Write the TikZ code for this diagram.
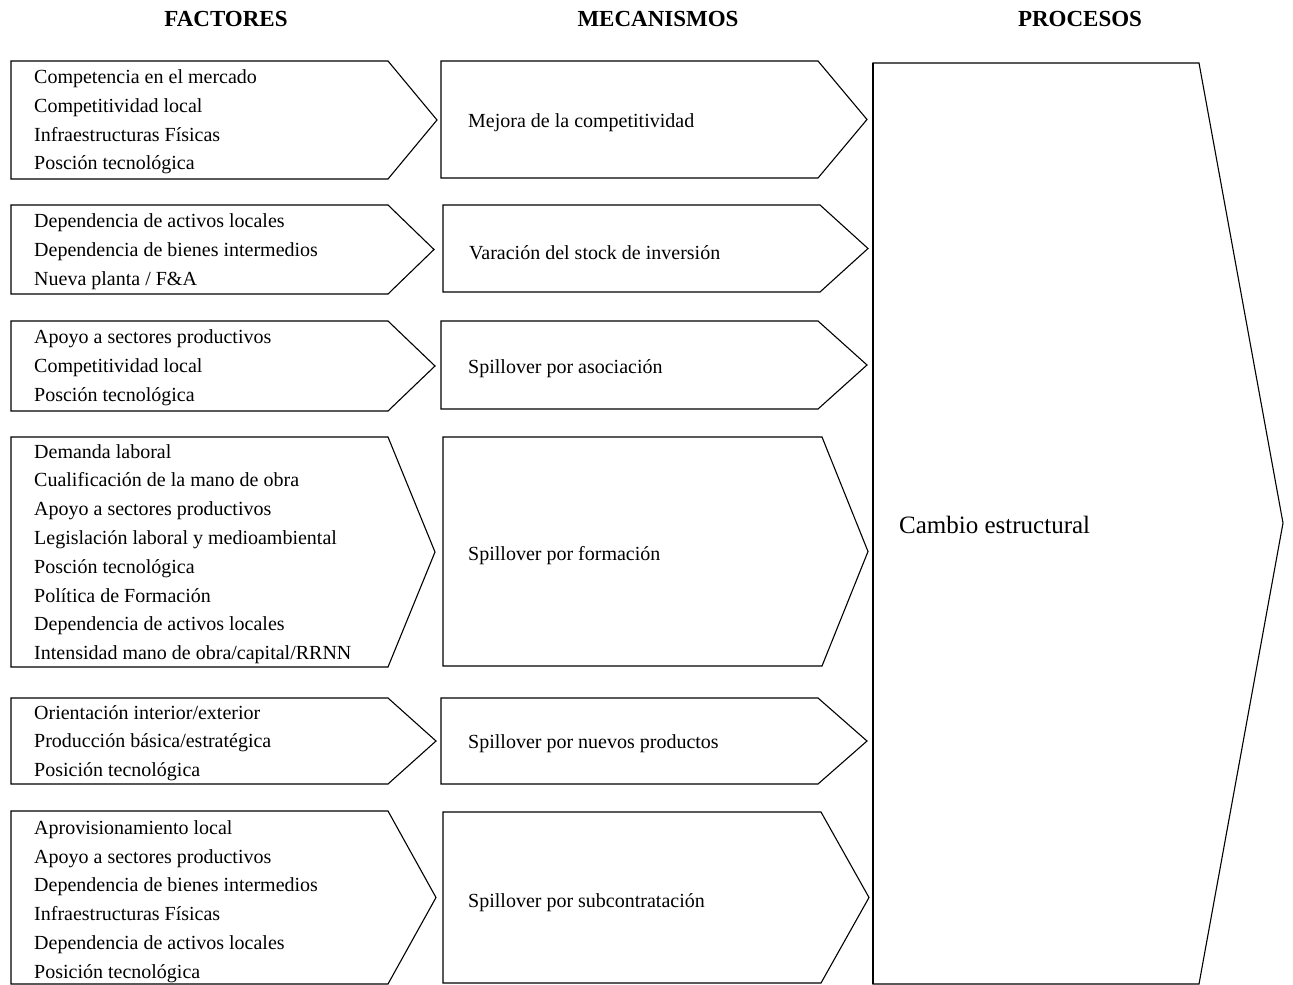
\documentclass[tikz,border=0pt]{standalone}
\usepackage{fontspec}
\setmainfont{Liberation Serif}
\begin{document}
\begin{tikzpicture}[x=1pt,y=-1pt,
  shapeline/.style={draw=black,line width=1.1pt,line join=miter},
  head/.style={font=\fontsize{23}{26}\selectfont\bfseries},
  factxt/.style={anchor=west,align=left,inner sep=0pt,font=\fontsize{20}{28.8}\selectfont},
  mectxt/.style={anchor=west,inner sep=0pt,font=\fontsize{20}{24}\selectfont},
  proctxt/.style={anchor=west,inner sep=0pt,font=\fontsize{25}{30}\selectfont}]
\useasboundingbox (0,0) rectangle (1293,985);
\fill[white] (0,0) rectangle (1293,985);

% column headings
\node[head] (hfac) at (226,19) {FACTORES};
\node[head] (hmec) at (658,19) {MECANISMOS};
\node[head] (hpro) at (1080,19) {PROCESOS};

% pentagon arrow: left, body right, tip, top, bottom
\newcommand\chevbox[5]{%
  \draw[shapeline] (#1,#4) -- (#2,#4) -- (#3,{(#4+#5)/2}) -- (#2,#5) -- (#1,#5) -- cycle;}

% factors column
\chevbox{11}{388}{437}{61}{179}
\chevbox{11}{388}{434}{205}{294}
\chevbox{11}{388}{435}{321}{411}
\chevbox{11}{388}{435}{437}{667}
\chevbox{11}{388}{436}{698}{784}
\chevbox{11}{388}{436}{811}{984}

\node[factxt] (f1) at (34,122) {Competencia en el mercado\\Competitividad local\\Infraestructuras Físicas\\Posción tecnológica};
\node[factxt] (f2) at (34,251.5) {Dependencia de activos locales\\Dependencia de bienes intermedios\\Nueva planta / F\&A};
\node[factxt] (f3) at (34,368) {Apoyo a sectores productivos\\Competitividad local\\Posción tecnológica};
\node[factxt] (f4) at (34,554) {Demanda laboral\\Cualificación de la mano de obra\\Apoyo a sectores productivos\\Legislación laboral y medioambiental\\Posción tecnológica\\Política de Formación\\Dependencia de activos locales\\Intensidad mano de obra/capital/RRNN};
\node[factxt] (f5) at (34,743) {Orientación interior/exterior\\Producción básica/estratégica\\Posición tecnológica};
\node[factxt] (f6) at (34,901.5) {Aprovisionamiento local\\Apoyo a sectores productivos\\Dependencia de bienes intermedios\\Infraestructuras Físicas\\Dependencia de activos locales\\Posición tecnológica};

% mechanisms column
\chevbox{441}{818}{867}{61}{178}
\chevbox{443}{820}{868}{205}{292}
\chevbox{441}{818}{867}{321}{409}
\chevbox{443}{822}{868}{437}{666}
\chevbox{441}{818}{867}{698}{784}
\chevbox{443}{821}{869}{812}{983}

\node[mectxt] (m1) at (468,123) {Mejora de la competitividad};
\node[mectxt] (m2) at (469,252.5) {Varación del stock de inversión};
\node[mectxt] (m3) at (468,368.5) {Spillover por asociación};
\node[mectxt] (m4) at (468,556) {Spillover por formación};
\node[mectxt] (m5) at (468,744) {Spillover por nuevos productos};
\node[mectxt] (m6) at (468,902.5) {Spillover por subcontratación};

% processes column
\draw[shapeline] (873,63) -- (1199,63) -- (1283,523) -- (1199,984) -- (873,984) -- cycle;
\draw[line width=1.6pt] (873,63) -- (873,984);
\node[proctxt] (p1) at (899,525) {Cambio estructural};
\end{tikzpicture}
\end{document}
